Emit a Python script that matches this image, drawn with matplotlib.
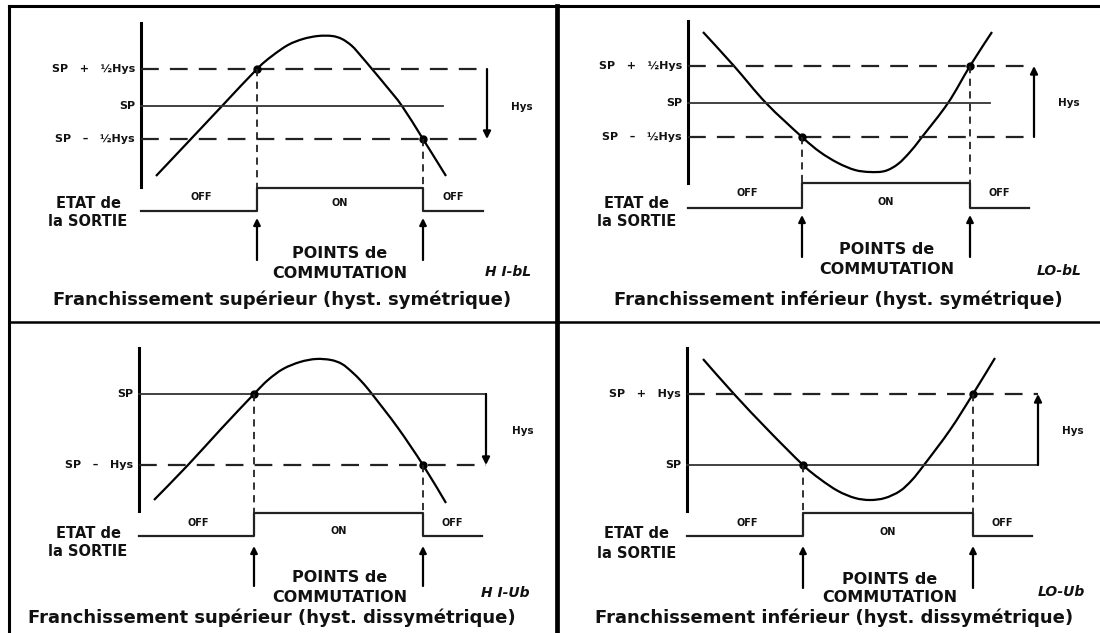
import matplotlib
matplotlib.use('Agg')
import matplotlib.pyplot as plt
from matplotlib.path import Path
from matplotlib.patches import PathPatch
import numpy as np

# Four panels: top-left, top-right, bottom-left, bottom-right (pixel coords of the picture)
titles = ['Franchissement supérieur (hyst. symétrique)',
          'Franchissement inférieur (hyst. symétrique)',
          'Franchissement supérieur (hyst. dissymétrique)',
          'Franchissement inférieur (hyst. dissymétrique)']
codes = ['H I-bL', 'LO-bL', 'H I-Ub', 'LO-Ub']

# threshold levels on each panel
level_names = [['SP   +   ½Hys', 'SP', 'SP   –   ½Hys'],
               ['SP   +   ½Hys', 'SP', 'SP   –   ½Hys'],
               ['SP', 'SP   –   Hys'],
               ['SP   +   Hys', 'SP']]
level_y = [[69, 106, 139], [66, 103, 137], [394, 465], [394, 465]]
level_dashed = [[True, False, True], [True, False, True], [False, True], [True, False]]
level_end = [[487, 443, 487], [1034, 990, 1034], [486, 486], [1038, 1038]]

# measured signal
curve_x = [[156, 190, 222, 257, 272, 288, 303, 318, 332, 342, 352, 361, 372, 387, 402, 423, 446],
           [703, 734, 766, 802, 820, 838, 855, 870, 885, 898, 910, 922, 948, 970, 992],
           [154, 188, 221, 254, 268, 283, 300, 316, 331, 342, 352, 362, 372, 398, 423, 446],
           [703, 734, 768, 803, 820, 838, 855, 870, 885, 900, 912, 924, 950, 973, 995]]
curve_y = [[176, 140, 106, 69, 56, 45, 39, 36, 36, 39, 46, 56, 69, 87, 106, 139, 176],
           [32, 66, 103, 137, 152, 163, 170, 172, 171, 164, 152, 137, 103, 66, 32],
           [500, 465, 429, 394, 380, 369, 362, 359, 360, 364, 372, 382, 394, 428, 465, 503],
           [359, 394, 430, 465, 479, 491, 498, 500, 498, 491, 480, 465, 430, 394, 358]]

# switching points (on / off)
switch_x = [[257, 423], [802, 970], [254, 423], [803, 973]]
switch_y = [[69, 139], [137, 66], [394, 465], [465, 394]]

# output state line
out_low = [211, 208, 536, 536]
out_high = [188, 183, 513, 513]
out_start = [141, 688, 139, 687]
out_end = [483, 1029, 482, 1032]

# vertical axis of each panel
axis_x = [141, 688, 139, 687]
axis_top = [23, 21, 348, 348]
axis_bottom = [187, 183, 511, 511]

# hysteresis arrow
hys_x = [487, 1034, 486, 1038]
hys_from = [69, 137, 394, 465]
hys_to = [139, 66, 465, 394]

# text layout
hys_label = [(522, 107), (1069, 103), (523, 431), (1073, 431)]
etat_xy = [(88, 203), (637, 203), (88, 533), (637, 534)]
sortie_dy = 19
points_xy = [(340, 254), (887, 250), (340, 578), (890, 579)]
comm_dy = 19
onoff_y = [(197, 203), (193, 202), (523, 531), (523, 532)]
code_xy = [(508, 272), (1059, 271), (505, 593), (1061, 592)]
title_xy = [(282, 300), (838, 300), (272, 618), (834, 618)]
arrow_tip = [218, 215, 546, 546]
arrow_base = [260, 257, 586, 588]


def smooth_path(xs, ys):
    # Catmull-Rom through the read points, drawn as cubic Bezier segments
    p = np.column_stack([xs, ys]).astype(float)
    p = np.vstack([p[0], p, p[-1]])
    verts = [p[1]]
    codes_ = [Path.MOVETO]
    for k in range(1, len(p) - 2):
        c1 = p[k] + (p[k + 1] - p[k - 1]) / 6
        c2 = p[k + 1] - (p[k + 2] - p[k]) / 6
        verts += [c1, c2, p[k + 1]]
        codes_ += [Path.CURVE4] * 3
    return Path(verts, codes_)


fig = plt.figure(figsize=(11, 6.33), dpi=100)
ax = fig.add_axes([0, 0, 1, 1])
ax.set_xlim(0, 1100)
ax.set_ylim(633, 0)
ax.axis('off')

bold = dict(fontfamily='DejaVu Sans', fontweight='bold', color='#111111')

# frame
ax.plot([9, 9], [6, 633], color='black', lw=2.2)
ax.plot([9, 1100], [6, 6], color='black', lw=2.2)
ax.plot([557, 557], [6, 633], color='black', lw=3.4)
ax.plot([9, 1100], [322, 322], color='black', lw=1.8)

for i in range(4):
    ax.plot([axis_x[i], axis_x[i]], [axis_top[i], axis_bottom[i]], color='black', lw=2.2)

    for name, y, dashed, end in zip(level_names[i], level_y[i], level_dashed[i], level_end[i]):
        if dashed:
            ax.plot([axis_x[i], end], [y, y], color='#222222', lw=1.6, dashes=(8, 5))
        else:
            ax.plot([axis_x[i], end], [y, y], color='#333333', lw=1.3)
        ax.text(axis_x[i] - 6, y, name, ha='right', va='center', fontsize=8, **bold)

    ax.add_patch(PathPatch(smooth_path(curve_x[i], curve_y[i]), fill=False,
                           edgecolor='black', lw=1.6))

    for sx, sy in zip(switch_x[i], switch_y[i]):
        ax.plot(sx, sy, 'o', color='black', markersize=5)
        ax.plot([sx, sx], [sy, out_high[i]], color='#222222', lw=1.3, dashes=(4, 3))
        ax.annotate('', xy=(sx, arrow_tip[i]), xytext=(sx, arrow_base[i]),
                    arrowprops=dict(arrowstyle='-|>', color='black', lw=1.6,
                                    mutation_scale=10, shrinkA=0, shrinkB=0))

    s_on, s_off = switch_x[i]
    ax.plot([out_start[i], s_on, s_on, s_off, s_off, out_end[i]],
            [out_low[i], out_low[i], out_high[i], out_high[i], out_low[i], out_low[i]],
            color='#222222', lw=1.6)

    ax.annotate('', xy=(hys_x[i], hys_to[i]), xytext=(hys_x[i], hys_from[i]),
                arrowprops=dict(arrowstyle='-|>', color='black', lw=1.6,
                                mutation_scale=11, shrinkA=0, shrinkB=0))
    ax.text(*hys_label[i], 'Hys', ha='center', va='center', fontsize=7.5, **bold)

    off_y, on_y = onoff_y[i]
    ax.text((axis_x[i] + s_on) / 2 + 2, off_y, 'OFF', ha='center', va='center', fontsize=7, **bold)
    ax.text((s_on + s_off) / 2, on_y, 'ON', ha='center', va='center', fontsize=7, **bold)
    ax.text((s_off + out_end[i]) / 2, off_y, 'OFF', ha='center', va='center', fontsize=7, **bold)

    ex, ey = etat_xy[i]
    ax.text(ex, ey, 'ETAT de', ha='center', va='center', fontsize=10.5, **bold)
    ax.text(ex, ey + sortie_dy, 'la SORTIE', ha='center', va='center', fontsize=10.5, **bold)

    px, py = points_xy[i]
    ax.text(px, py, 'POINTS de', ha='center', va='center', fontsize=11.5, **bold)
    ax.text(px, py + comm_dy, 'COMMUTATION', ha='center', va='center', fontsize=11.5, **bold)

    ax.text(*code_xy[i], codes[i], ha='center', va='center', fontsize=10,
            fontstyle='italic', **bold)
    ax.text(*title_xy[i], titles[i], ha='center', va='center', fontsize=13, **bold)

fig.savefig('out.png', dpi=100)
